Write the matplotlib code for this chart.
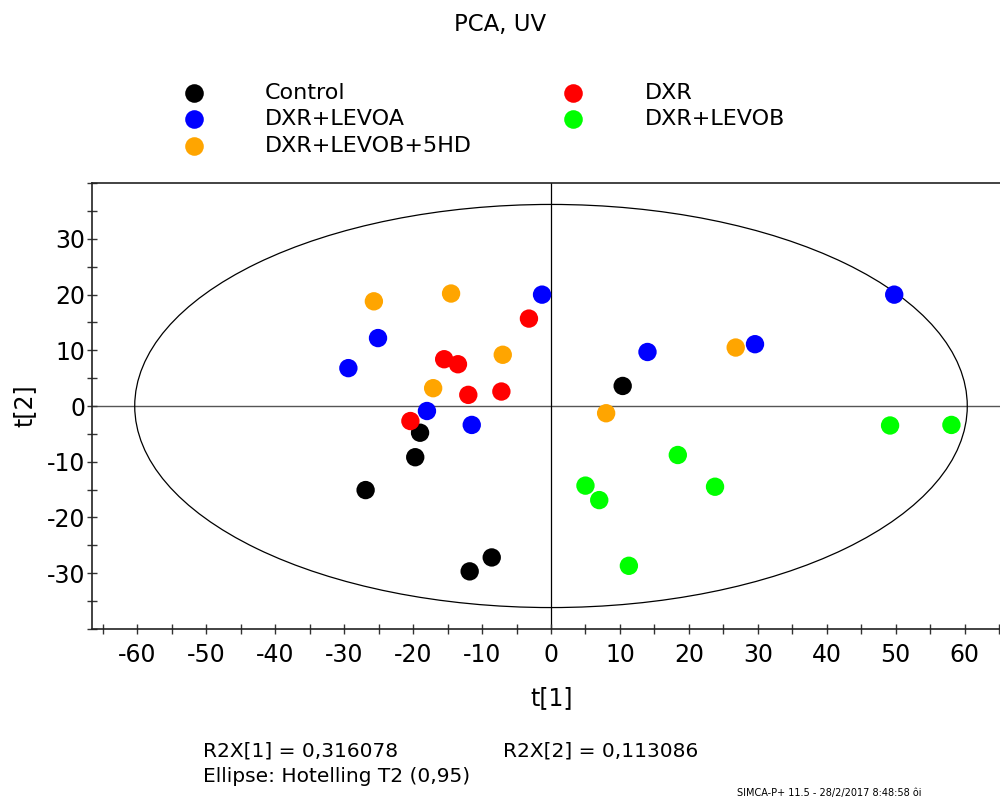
import matplotlib
matplotlib.use("Agg")
import matplotlib.pyplot as plt
from matplotlib.patches import Ellipse
from matplotlib.lines import Line2D
from matplotlib.ticker import MultipleLocator

plt.rcParams["axes.unicode_minus"] = False

# ---- data (t[1], t[2] scores per group) ----
groups = ["Control", "DXR+LEVOA", "DXR+LEVOB+5HD", "DXR", "DXR+LEVOB"]
colors = ["#000000", "#0000FF", "#FFA500", "#FF0000", "#00FF00"]

control_t1 = [10.4, -19.0, -19.7, -26.9, -8.6, -11.8]
control_t2 = [3.6, -4.8, -9.2, -15.1, -27.2, -29.7]

dxr_t1 = [-3.2, -15.5, -13.5, -12.0, -7.2, -20.4]
dxr_t2 = [15.7, 8.4, 7.5, 2.0, 2.6, -2.7]

levoa_t1 = [-1.3, -25.1, -29.4, -18.0, -11.5, 14.0, 29.6, 49.8]
levoa_t2 = [20.0, 12.2, 6.8, -0.9, -3.4, 9.7, 11.1, 20.0]

levob5hd_t1 = [-25.7, -14.5, -7.0, -17.1, 8.0, 26.8]
levob5hd_t2 = [18.8, 20.2, 9.2, 3.2, -1.3, 10.5]

levob_t1 = [5.0, 7.0, 11.3, 18.4, 23.8, 49.2, 58.1]
levob_t2 = [-14.3, -16.9, -28.7, -8.8, -14.5, -3.5, -3.4]

ellipse_a = 60.4   # Hotelling T2 (0.95) semi-axis along t[1]
ellipse_b = 36.2   # semi-axis along t[2]

x_ticks = list(range(-60, 61, 10))
y_ticks = list(range(-30, 31, 10))

title = "PCA, UV"
r2x1_text = "R2X[1] = 0,316078"
r2x2_text = "R2X[2] = 0,113086"
ellipse_text = "Ellipse: Hotelling T2 (0,95)"
footer_text = "SIMCA-P+ 11.5 - 28/2/2017 8:48:58 ôi"

# ---- figure ----
font = ["DejaVu Sans"]

fig = plt.figure(figsize=(10, 8), dpi=100)
ax = fig.add_axes([0.092, 0.2141, 0.918, 0.5568])
ax.set_xlim(-66.6, 66.6)
ax.set_ylim(-40, 40)

ax.axhline(0, color="#555555", lw=1.0, zorder=1)
ax.axvline(0, color="#000000", lw=0.9, zorder=1)
ax.add_patch(Ellipse((0, 0), 2 * ellipse_a, 2 * ellipse_b, fill=False,
                     edgecolor="black", lw=0.9, zorder=2))

series = {
    "Control": (control_t1, control_t2),
    "DXR+LEVOA": (levoa_t1, levoa_t2),
    "DXR+LEVOB+5HD": (levob5hd_t1, levob5hd_t2),
    "DXR": (dxr_t1, dxr_t2),
    "DXR+LEVOB": (levob_t1, levob_t2),
}
color_of = dict(zip(groups, colors))
draw_order = ["Control", "DXR+LEVOB+5HD", "DXR+LEVOA", "DXR+LEVOB", "DXR"]
for g in draw_order:
    xs, ys = series[g]
    ax.scatter(xs, ys, s=175, color=color_of[g], edgecolors="none", zorder=3)

ax.set_xticks(x_ticks)
ax.set_yticks(y_ticks)
ax.xaxis.set_minor_locator(MultipleLocator(5))
ax.yaxis.set_minor_locator(MultipleLocator(5))
ax.tick_params(which="both", direction="inout", length=6.5, width=1, color="#333333")
ax.tick_params(axis="x", which="major", pad=7)
ax.tick_params(axis="y", which="major", pad=1.5)
for lbl in ax.get_xticklabels() + ax.get_yticklabels():
    lbl.set_family(font)
    lbl.set_fontsize(17)
for side in ["left", "bottom", "top", "right"]:
    ax.spines[side].set_linewidth(1.2)
    ax.spines[side].set_color("#222222")

ax.set_xlabel("t[1]", family=font, fontsize=17, va="center")
ax.xaxis.set_label_coords(0.501, -0.1555)
ax.set_ylabel("t[2]", family=font, fontsize=17, va="center")
ax.yaxis.set_label_coords(-0.074, 0.5)

fig.text(0.5, 1 - 24.5 / 800, title, family=font, fontsize=16.5,
         ha="center", va="center")

# legend (manual placement, two columns)
leg_pos = {
    "Control": (194, 265, 93),
    "DXR+LEVOA": (194, 265, 119),
    "DXR+LEVOB+5HD": (194, 265, 146),
    "DXR": (573, 645, 93),
    "DXR+LEVOB": (573, 645, 119),
}
for g in groups:
    mx, tx, y = leg_pos[g]
    fy = 1 - y / 800
    fig.add_artist(Line2D([mx / 1000], [fy], marker="o", markersize=13.4,
                          color=color_of[g], markeredgewidth=0, linestyle="none",
                          transform=fig.transFigure))
    fig.text(tx / 1000, fy, g, family=font, fontsize=16, ha="left", va="center")

fig.text(0.203, 1 - 751 / 800, r2x1_text, family=font, fontsize=14.5,
         ha="left", va="center")
fig.text(0.503, 1 - 751 / 800, r2x2_text, family=font, fontsize=14.5,
         ha="left", va="center")
fig.text(0.203, 1 - 776 / 800, ellipse_text, family=font, fontsize=14.5,
         ha="left", va="center")
fig.text(0.737, 0.002, footer_text, family=font, fontsize=7,
         ha="left", va="bottom")

fig.savefig("out.png", dpi=100)
